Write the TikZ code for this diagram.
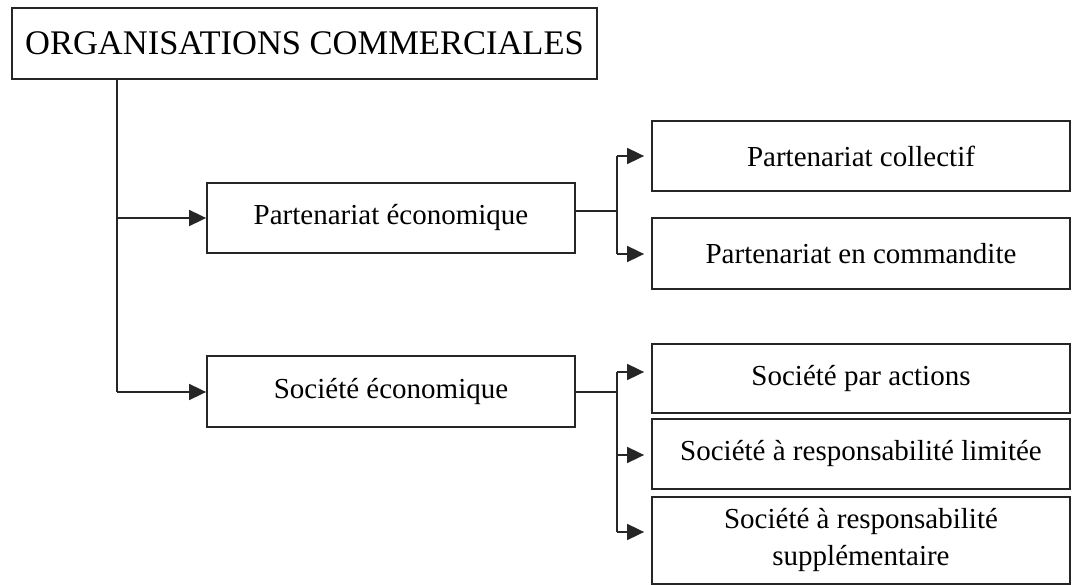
\documentclass[tikz,border=0pt]{standalone}
\usepackage{fontspec}
\setmainfont{Liberation Serif}
\usetikzlibrary{arrows.meta}
\begin{document}
\begin{tikzpicture}[x=1pt,y=-1pt,
  box/.style={draw=black!85, line width=1.8pt, inner sep=0pt, align=center, font=\fontsize{29}{37}\selectfont},
  conn/.style={draw=black!85, line width=1.8pt},
  arr/.style={conn, -{Triangle[length=17pt,width=16pt]}},
  arrs/.style={arr, shorten >=7pt}]
\useasboundingbox (0,0) rectangle (1072,585);
\node[box, minimum width=585pt, minimum height=71pt, font=\fontsize{34.5}{42}\selectfont] (top) at (304.5,43.5) {ORGANISATIONS COMMERCIALES};
\node[box, minimum width=368pt, minimum height=70pt] (pe) at (391,218) {Partenariat économique};
\node[box, minimum width=368pt, minimum height=71pt] (se) at (391,391.5) {Société économique};
\node[box, minimum width=418pt, minimum height=70pt] (pc) at (861,156) {Partenariat collectif};
\node[box, minimum width=418pt, minimum height=71pt] (pcm) at (861,253.5) {Partenariat en commandite};
\node[box, minimum width=418pt, minimum height=69pt] (spa) at (861,378.5) {Société par actions};
\node[box, minimum width=418pt, minimum height=70pt] (sarl) at (861,454) {Société à responsabilité limitée};
\node[box, minimum width=418pt, minimum height=87pt] (sars) at (861,540.5) {Société à responsabilité\\supplémentaire};
% left trunk
\coordinate (j1) at (117,218);
\coordinate (j2) at (117,392);
\draw[conn] (top.south -| j1) -- (j2);
\draw[arr] (j1) -- (pe.west);
\draw[arr] (j2) -- (j2 -| se.west);
% first branch
\coordinate (b1) at (617,211);
\coordinate (c1) at (617,156);
\coordinate (c2) at (617,254);
\draw[conn] (b1 -| pe.east) -- (b1);
\draw[conn] (c1) -- (c2);
\draw[arrs] (c1) -- (c1 -| pc.west);
\draw[arrs] (c2) -- (c2 -| pcm.west);
% second branch
\coordinate (b2) at (617,392);
\coordinate (d1) at (617,372);
\coordinate (d2) at (617,455);
\coordinate (d3) at (617,532);
\draw[conn] (b2 -| se.east) -- (b2);
\draw[conn] (d1) -- (d3);
\draw[arrs] (d1) -- (d1 -| spa.west);
\draw[arrs] (d2) -- (d2 -| sarl.west);
\draw[arrs] (d3) -- (d3 -| sars.west);
\end{tikzpicture}
\end{document}
